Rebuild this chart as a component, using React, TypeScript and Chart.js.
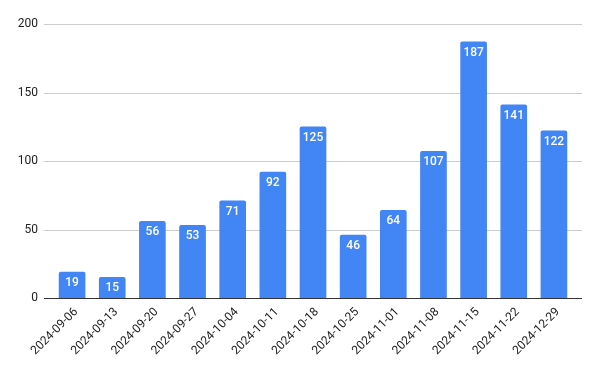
import React, { useEffect, useRef } from "react";
import { Chart, registerables } from "chart.js";

Chart.register(...registerables);

const categories = [
  "2024-09-06", "2024-09-13", "2024-09-20", "2024-09-27", "2024-10-04",
  "2024-10-11", "2024-10-18", "2024-10-25", "2024-11-01", "2024-11-08",
  "2024-11-15", "2024-11-22", "2024-12-29",
];
const values = [19, 15, 56, 53, 71, 92, 125, 46, 64, 107, 187, 141, 122];
const yTicks = [0, 50, 100, 150, 200];

const FONT = "Roboto, Arial, sans-serif";

const gridPlugin = {
  id: "customGrid",
  beforeDatasetsDraw(chart: any) {
    const { ctx, chartArea, scales } = chart;
    const y = scales.y;
    const left = chartArea.left - 8;
    const right = chartArea.right + 8;
    ctx.save();
    yTicks.forEach((t) => {
      const py = Math.round(y.getPixelForValue(t)) + 0.5;
      ctx.beginPath();
      ctx.strokeStyle = t === 0 ? "#333333" : "#cccccc";
      ctx.lineWidth = 1;
      ctx.moveTo(left, py);
      ctx.lineTo(right, py);
      ctx.stroke();
    });
    ctx.restore();
  },
  afterDatasetsDraw(chart: any) {
    const { ctx, scales } = chart;
    const y = scales.y;
    const left = chart.chartArea.left - 8;
    const right = chart.chartArea.right + 8;
    ctx.save();
    const py = Math.round(y.getPixelForValue(0)) + 0.5;
    ctx.beginPath();
    ctx.strokeStyle = "#333333";
    ctx.lineWidth = 1;
    ctx.moveTo(left, py);
    ctx.lineTo(right, py);
    ctx.stroke();
    const meta = chart.getDatasetMeta(0);
    ctx.fillStyle = "#ffffff";
    ctx.font = `500 12px ${FONT}`;
    ctx.textAlign = "center";
    ctx.textBaseline = "middle";
    meta.data.forEach((bar: any, i: number) => {
      ctx.fillText(String(values[i]), bar.x, bar.y + 11);
    });
    ctx.restore();
  },
};

export default function App() {
  const ref = useRef<HTMLCanvasElement>(null);
  useEffect(() => {
    if (!ref.current) return;
    const chart = new Chart(ref.current, {
      type: "bar",
      data: {
        labels: categories,
        datasets: [
          {
            data: values,
            backgroundColor: "#4285F4",
            borderRadius: 2,
            borderSkipped: "bottom",
            barThickness: 26,
          },
        ],
      },
      options: {
        responsive: false,
        animation: false,
        layout: { padding: { left: 0, right: 25, top: 24, bottom: 0 } },
        plugins: { legend: { display: false }, tooltip: { enabled: false } },
        scales: {
          x: {
            grid: { display: false, drawTicks: false },
            border: { display: false },
            ticks: {
              minRotation: 45,
              maxRotation: 45,
              autoSkip: false,
              color: "#222222",
              padding: 7,
              labelOffset: 4,
              font: { family: FONT, size: 12 },
            },
            afterFit: (s: any) => {
              s.height = 72;
            },
          },
          y: {
            min: 0,
            max: 200,
            grid: { display: false, drawTicks: false },
            border: { display: false },
            ticks: {
              stepSize: 50,
              color: "#222222",
              padding: 14,
              font: { family: FONT, size: 12 },
            },
            afterFit: (s: any) => {
              s.width = 52;
            },
          },
        },
      },
      plugins: [gridPlugin],
    });
    return () => chart.destroy();
  }, []);
  return (
    <div style={{ position: "fixed", left: 0, top: 0, width: 599, height: 370, background: "#fff" }}>
      <canvas ref={ref} width={599} height={370} />
    </div>
  );
}
